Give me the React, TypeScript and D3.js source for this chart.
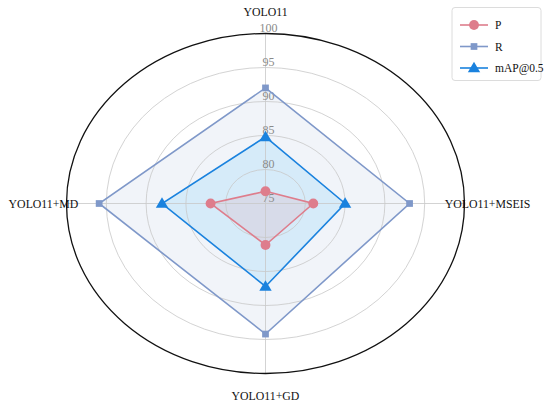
import React from "react";
import * as d3 from "d3";

const categories = ["YOLO11", "YOLO11+MSEIS", "YOLO11+GD", "YOLO11+MD"];
const seriesNames = ["P", "R", "mAP@0.5"];
const pValues = [76.8, 81.0, 81.1, 81.9];
const rValues = [92.0, 93.1, 94.2, 95.9];
const mapValues = [84.8, 85.0, 87.2, 88.0];
const radialTicks = [75, 80, 85, 90, 95, 100];
const colors = ["#de7d8c", "#7f98c9", "#1a82de"];
const fillColors = ["#de7d8c", "#7f98c9", "#87cefa"];
const fillOpacity = [0.15, 0.11, 0.25];
const markers = ["circle", "square", "triangle"];

const W = 550;
const H = 408;
const cx = 265.5;
const cy = 203.5;
const rx = 199;
const ry = 170;

const rScale = d3.scaleLinear().domain([75, 100]).range([0, 1]);
const angle = (i: number) => (i * 2 * Math.PI) / categories.length;
const pt = (i: number, v: number): [number, number] => {
  const r = rScale(v);
  const a = angle(i);
  return [cx + Math.sin(a) * r * rx, cy - Math.cos(a) * r * ry];
};

function Marker({ kind, x, y, color, size }: { kind: string; x: number; y: number; color: string; size: number }) {
  if (kind === "circle") return <circle cx={x} cy={y} r={size * 0.55} fill={color} />;
  if (kind === "square")
    return <rect x={x - size * 0.42} y={y - size * 0.42} width={size * 0.84} height={size * 0.84} fill={color} />;
  const s = size * 0.62;
  return <path d={`M${x},${y - s}L${x + s},${y + s * 0.7}L${x - s},${y + s * 0.7}Z`} fill={color} />;
}

const font = "'Liberation Serif', serif";

export default function App() {
  const series = [pValues, rValues, mapValues];
  const line = d3.line<[number, number]>().curve(d3.curveLinearClosed);
  const fillOrder = [1, 2, 0];
  return (
    <svg width={W} height={H} style={{ position: "absolute", left: 0, top: 0, background: "#fff", fontFamily: font }}>
      {/* fills */}
      {fillOrder.map((s) => (
        <path
          key={"f" + s}
          d={line(series[s].map((v, i) => pt(i, v))) || ""}
          fill={fillColors[s]}
          fillOpacity={fillOpacity[s]}
          stroke="none"
        />
      ))}
      {/* grid rings */}
      {radialTicks.slice(1, -1).map((t) => (
        <ellipse key={t} cx={cx} cy={cy} rx={rScale(t) * rx} ry={rScale(t) * ry} fill="none" stroke="#c8c8c8" strokeOpacity={0.8} strokeWidth={1} />
      ))}
      {/* spokes */}
      {categories.map((c, i) => {
        const [x, y] = pt(i, 100);
        return <line key={c} x1={cx} y1={cy} x2={x} y2={y} stroke="#c8c8c8" strokeOpacity={0.8} strokeWidth={1} />;
      })}
      {/* outer boundary */}
      <ellipse cx={cx} cy={cy} rx={rx} ry={ry} fill="none" stroke="#111" strokeWidth={1.3} />
      {/* radial tick labels */}
      {radialTicks.map((t) => (
        <text
          key={"t" + t}
          x={cx + 3}
          y={cy - rScale(t) * ry - 2}
          textAnchor="middle"
          style={{ fontFamily: font }}
          fontSize={12}
          fill="#8a8a8a"
        >
          {t}
        </text>
      ))}
      {/* lines and markers */}
      {series.map((vals, s) => (
        <g key={"l" + s}>
          <path d={line(vals.map((v, i) => pt(i, v))) || ""} fill="none" stroke={colors[s]} strokeWidth={1.6} />
          {vals.map((v, i) => {
            const [x, y] = pt(i, v);
            return <Marker key={i} kind={markers[s]} x={x} y={y} color={colors[s]} size={s === 2 ? 10 : s === 1 ? 8 : 9} />;
          })}
        </g>
      ))}
      {/* category labels */}
      {categories.map((c, i) => {
        const a = angle(i);
        const x = cx + Math.sin(a) * 222;
        const y = cy - Math.cos(a) * 192;
        return (
          <text key={c} x={x} y={y} textAnchor="middle" dominantBaseline="central" style={{ fontFamily: font }} fontSize={11.8} fill="#111">
            {c}
          </text>
        );
      })}
      {/* legend */}
      <g>
        <rect x={452} y={7.5} width={89} height={73} rx={3} fill="#fff" fillOpacity={0.85} stroke="#dcdcdc" strokeWidth={1} />
        {seriesNames.map((n, s) => {
          const y = 25 + s * 21.5;
          return (
            <g key={n}>
              <line x1={460} x2={488} y1={y} y2={y} stroke={colors[s]} strokeWidth={1.6} />
              <Marker kind={markers[s]} x={474} y={y} color={colors[s]} size={s === 2 ? 10 : s === 1 ? 8 : 9} />
              <text x={495} y={y} dominantBaseline="central" style={{ fontFamily: font }} fontSize={11.5} fill="#111">
                {n}
              </text>
            </g>
          );
        })}
      </g>
    </svg>
  );
}
